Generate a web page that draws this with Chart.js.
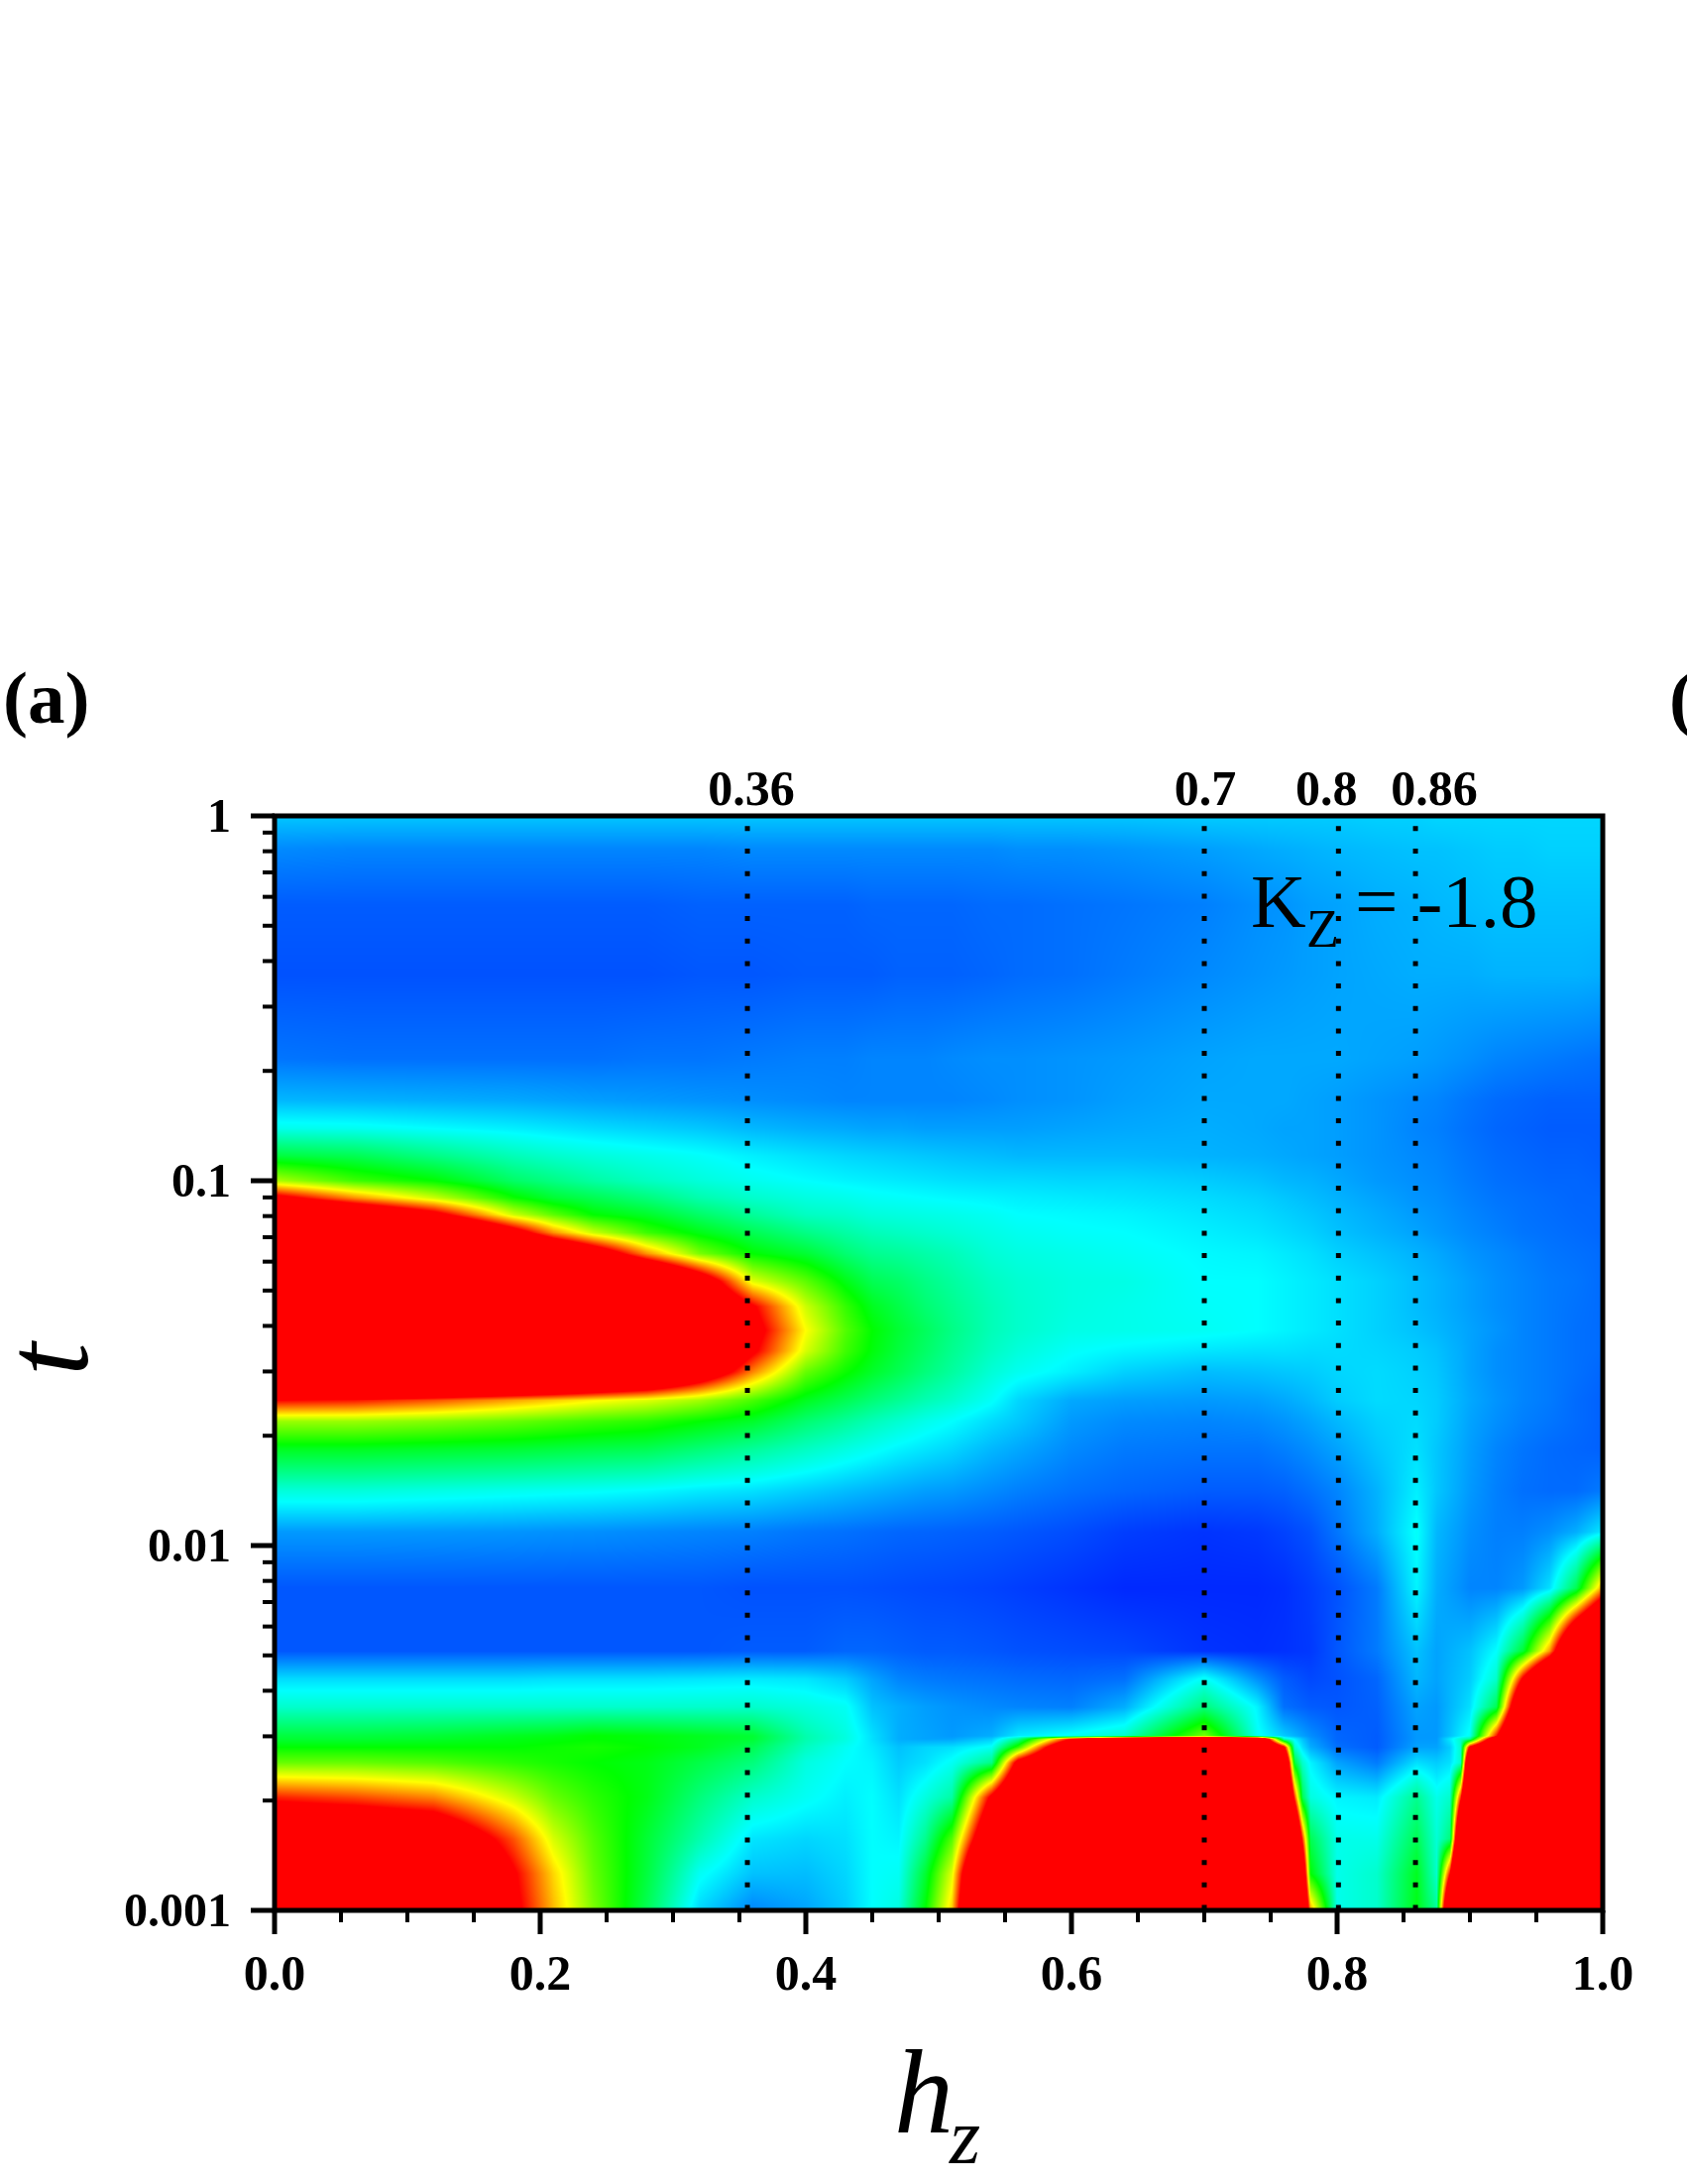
<!DOCTYPE html>
<html>
<head>
<meta charset="utf-8">
<title>Kz = -1.8 map</title>
<script src="https://cdn.jsdelivr.net/npm/chart.js@4"></script>
<style>
    html, body { margin: 0; padding: 0; background: #fff; }
    canvas { display: block; }
</style>
</head>
<body>
<canvas id="chart" width="1702" height="2203"></canvas>
<script>
// Values
const hzValues = [0, .06, .12, .18, .21, .24, .28, .32, .36, .40, .43, .45, .47, .49, .51, .54, .56, .60, .64, .70, .74, .76, .768, .774, .78, .80, .83, .86, .875, .885, .893, .90, .92, .94, .96, .98, 1];
const tValues = [1, .81, .57, .367, .216, .166, .139, .117, .1, .0897, .0807, .072, .0631, .053, .0452, .0389, .0341, .0299, .025, .0219, .0184, .0141, .0109, .00764, .00514, .00431, .00361, .003006, .002951, .0028, .00254, .00204, .00157, .00126, .001];

// One row per t, one column per hz. 0 = blue, .25 = cyan, .5 = green, .75 = yellow, 1 and up = red
const cellValues = [
    [.195, .195, .195, .195, .195, .195, .195, .195, .195, .195, .195, .195, .195, .195, .195, .195, .195, .195, .195, .2, .2, .2, .2, .2, .2, .2, .205, .205, .21, .21, .21, .21, .21, .21, .21, .21, .21],
    [.135, .13, .13, .13, .13, .13, .13, .13, .135, .135, .135, .135, .135, .135, .135, .135, .14, .14, .145, .155, .165, .17, .172, .173, .175, .18, .185, .19, .19, .192, .194, .195, .2, .2, .205, .205, .205],
    [.09, .09, .09, .09, .09, .09, .09, .095, .095, .095, .095, .1, .1, .1, .1, .105, .105, .11, .115, .125, .14, .145, .149, .152, .155, .16, .17, .175, .18, .182, .184, .185, .19, .19, .19, .19, .19],
    [.08, .08, .08, .08, .08, .08, .08, .085, .085, .09, .09, .09, .095, .095, .095, .1, .105, .11, .12, .135, .145, .15, .152, .154, .155, .16, .165, .17, .17, .17, .17, .17, .175, .175, .175, .175, .17],
    [.115, .11, .11, .11, .11, .11, .115, .115, .12, .125, .125, .13, .13, .13, .135, .14, .14, .145, .15, .16, .165, .165, .165, .165, .165, .165, .16, .155, .15, .146, .143, .14, .13, .125, .12, .115, .11],
    [.18, .175, .17, .165, .16, .155, .15, .145, .14, .135, .13, .13, .13, .13, .13, .135, .14, .145, .155, .165, .165, .165, .163, .161, .16, .155, .145, .135, .13, .124, .119, .115, .105, .1, .095, .095, .095],
    [.27, .265, .25, .235, .225, .215, .205, .195, .18, .17, .165, .16, .16, .155, .155, .155, .155, .16, .165, .17, .165, .16, .16, .16, .16, .155, .145, .13, .125, .119, .114, .11, .1, .095, .09, .09, .09],
    [.44, .42, .37, .32, .3, .285, .27, .255, .235, .22, .21, .205, .2, .195, .19, .185, .18, .18, .18, .175, .17, .165, .163, .161, .16, .155, .145, .135, .13, .124, .119, .115, .105, .1, .095, .095, .09],
    [.67, .56, .5, .4, .37, .34, .31, .285, .265, .25, .24, .235, .23, .225, .22, .215, .215, .21, .21, .2, .19, .18, .178, .176, .175, .165, .15, .14, .135, .129, .124, .12, .11, .105, .1, .1, .095],
    [1.07, .86, .7, .51, .45, .42, .38, .33, .3, .28, .27, .26, .255, .25, .245, .24, .235, .23, .225, .215, .205, .195, .191, .188, .185, .175, .16, .145, .14, .134, .129, .125, .115, .11, .105, .1, .1],
    [1.5, 1.29, 1.07, .7, .59, .5, .46, .4, .35, .31, .3, .285, .28, .275, .27, .26, .25, .245, .24, .225, .215, .205, .201, .198, .195, .183, .168, .152, .145, .139, .134, .13, .12, .112, .107, .102, .1],
    [2, 1.75, 1.54, 1.11, .86, .7, .56, .48, .42, .37, .34, .32, .31, .3, .29, .275, .265, .255, .25, .235, .225, .215, .211, .208, .205, .19, .175, .16, .15, .144, .139, .135, .125, .115, .11, .105, .1],
    [2, 1.9, 1.85, 1.65, 1.4, 1.18, .86, .62, .5, .45, .39, .36, .35, .335, .32, .29, .28, .27, .26, .245, .24, .23, .226, .223, .22, .205, .19, .175, .165, .157, .151, .145, .135, .125, .115, .11, .105],
    [2, 2, 2, 2, 1.9, 1.75, 1.55, 1.18, .72, .59, .48, .42, .4, .37, .345, .31, .295, .28, .275, .25, .25, .24, .236, .233, .23, .22, .205, .185, .175, .167, .161, .155, .14, .13, .12, .115, .105],
    [2.1, 2.1, 2, 1.9, 1.8, 1.7, 1.5, 1.35, 1.02, .7, .55, .47, .43, .39, .36, .32, .3, .28, .27, .255, .25, .24, .236, .233, .23, .22, .205, .185, .175, .167, .161, .155, .14, .13, .12, .112, .105],
    [2.2, 2.2, 2.15, 2.1, 2, 1.9, 1.7, 1.45, 1.08, .75, .58, .5, .45, .41, .37, .32, .3, .275, .27, .26, .25, .24, .236, .233, .23, .22, .205, .19, .18, .172, .166, .16, .145, .13, .12, .11, .105],
    [2.1, 2.1, 2.05, 2, 1.9, 1.8, 1.6, 1.4, 1.03, .71, .56, .49, .44, .4, .36, .31, .285, .255, .24, .225, .22, .22, .218, .217, .215, .215, .21, .2, .19, .178, .17, .16, .14, .13, .12, .11, .105],
    [1.9, 1.9, 1.85, 1.8, 1.75, 1.65, 1.5, 1.2, .87, .6, .51, .46, .42, .38, .345, .29, .265, .235, .205, .185, .19, .195, .197, .199, .2, .21, .215, .205, .195, .181, .171, .16, .14, .13, .12, .11, .1],
    [1, .98, .92, .84, .8, .76, .72, .66, .57, .47, .42, .385, .355, .325, .3, .255, .21, .165, .155, .15, .155, .165, .171, .175, .18, .2, .215, .21, .2, .186, .175, .165, .145, .13, .12, .105, .095],
    [.65, .65, .63, .6, .58, .56, .54, .5, .46, .39, .35, .32, .295, .27, .25, .215, .195, .15, .135, .13, .135, .145, .151, .155, .16, .18, .205, .215, .2, .184, .172, .16, .14, .125, .115, .105, .095],
    [.47, .47, .46, .45, .44, .43, .42, .385, .35, .31, .28, .26, .24, .225, .21, .18, .165, .135, .12, .115, .115, .125, .131, .135, .14, .16, .195, .22, .195, .179, .167, .155, .13, .115, .105, .1, .095],
    [.285, .285, .275, .265, .26, .255, .245, .23, .22, .2, .185, .175, .165, .155, .15, .135, .125, .11, .1, .09, .09, .095, .101, .105, .11, .13, .175, .235, .195, .177, .163, .15, .125, .11, .105, .105, .12],
    [.15, .15, .148, .145, .142, .14, .135, .13, .125, .115, .11, .105, .1, .098, .095, .09, .085, .075, .06, .05, .055, .065, .071, .075, .08, .115, .17, .255, .18, .164, .152, .14, .125, .125, .14, .17, .23],
    [.085, .085, .085, .085, .085, .085, .085, .085, .08, .08, .08, .078, .075, .072, .07, .065, .06, .05, .04, .04, .04, .045, .051, .055, .06, .08, .12, .24, .17, .154, .142, .13, .13, .15, .22, .42, .85],
    [.085, .085, .085, .085, .085, .085, .085, .085, .09, .09, .1, .1, .095, .09, .09, .085, .08, .075, .07, .05, .045, .048, .051, .053, .055, .085, .12, .19, .16, .172, .181, .19, .25, .45, .85, 1.6, 2],
    [.215, .215, .215, .215, .22, .22, .22, .225, .23, .225, .2, .16, .13, .12, .115, .11, .105, .1, .11, .26, .14, .09, .082, .076, .07, .08, .1, .18, .16, .176, .188, .2, .3, 1.03, 1.6, 2, 2.2],
    [.3, .3, .3, .3, .3, .3, .3, .3, .3, .28, .26, .19, .17, .155, .145, .135, .13, .125, .17, .38, .24, .11, .102, .096, .09, .085, .095, .16, .15, .178, .199, .22, .42, 1.5, 1.9, 2.2, 2.3],
    [.44, .44, .45, .47, .48, .5, .49, .47, .45, .33, .28, .22, .17, .16, .15, .17, .23, .26, .3, .62, .26, .2, .176, .158, .14, .1, .09, .15, .15, .19, .23, .26, .98, 1.8, 2, 2.3, 2.4],
    [.45, .45, .46, .48, .49, .5, .49, .47, .45, .33, .28, .22, .17, .16, .16, .2, .35, 1, 1.5, 1.7, 1.5, .3, .24, .19, .15, .1, .09, .15, .15, .23, .3, .35, 1.3, 1.9, 2.1, 2.3, 2.4],
    [.5, .5, .5, .5, .51, .52, .5, .47, .42, .31, .26, .23, .19, .21, .22, .26, .55, 1.4, 1.7, 1.8, 1.7, 1.05, .3, .22, .17, .11, .09, .16, .16, .2, .3, 1.05, 1.6, 2, 2.1, 2.3, 2.4],
    [.6, .6, .58, .54, .52, .5, .48, .43, .38, .28, .25, .24, .2, .22, .26, .37, 1.1, 1.6, 1.8, 1.9, 1.8, 1.5, .45, .3, .24, .16, .12, .22, .2, .22, .3, 1.6, 1.8, 2, 2.2, 2.3, 2.4],
    [.97, .93, .87, .7, .6, .54, .48, .38, .3, .26, .235, .25, .22, .28, .34, 1.05, 1.5, 1.9, 2, 2, 2, 1.8, .95, .42, .28, .24, .23, .36, .27, .3, .95, 1.8, 2, 2.2, 2.3, 2.4, 2.4],
    [1.3, 1.3, 1.25, .92, .71, .58, .45, .33, .225, .21, .22, .25, .24, .36, .58, 1.35, 1.8, 2, 2, 2, 2, 2, 1.6, .95, .42, .27, .27, .42, .29, .38, 1.6, 2, 2.2, 2.3, 2.4, 2.4, 2.4],
    [1.6, 1.55, 1.5, 1.02, .79, .6, .44, .26, .19, .185, .21, .25, .26, .45, .72, 1.8, 2, 2, 2, 2, 2, 2, 2, 1.3, .5, .27, .3, .47, .3, 1, 2, 2.2, 2.3, 2.4, 2.4, 2.4, 2.4],
    [1.8, 1.8, 1.7, 1.05, .82, .62, .42, .21, .13, .16, .2, .25, .28, .5, .8, 2, 2, 2, 2, 2, 2, 2, 2, 1.5, .85, .27, .3, .48, .35, 1.6, 2.2, 2.4, 2.4, 2.4, 2.4, 2.4, 2.4]
];

// Axis ticks
const xMajorTicks = [0, .2, .4, .6, .8, 1];
const xMinorTicks = [.05, .1, .15, .25, .3, .35, .45, .5, .55, .65, .7, .75, .85, .9, .95];
const yMajorTicks = [1, .1, .01, .001];
const yMinorTicks = [.9, .8, .7, .6, .5, .4, .3, .2, .09, .08, .07, .06, .05, .04, .03, .02, .009, .008, .007, .006, .005, .004, .003, .002];

// Dotted guide lines and what is printed above them
const markerHz = [.356, .7, .801, .859];
const markerLabels = ['0.36', '0.7', '0.8', '0.86'];
const markerLabelShift = [4, 1, -12, 19];

const SERIF = '"Liberation Serif", "Times New Roman", serif';
const colorStops = [[0, 0, 255], [0, 255, 255], [0, 255, 0], [255, 255, 0], [255, 0, 0]];

// Rainbow colormap, saturates at red
function colorFor(v) {
    const pos = Math.min(Math.max(v, 0), 1) * 4;
    const i = Math.min(Math.floor(pos), 3);
    const f = pos - i;
    const a = colorStops[i], b = colorStops[i + 1];
    return [a[0] + (b[0] - a[0]) * f, a[1] + (b[1] - a[1]) * f, a[2] + (b[2] - a[2]) * f];
}

// Paints the map under the datasets, smooth shading between the grid nodes
const heatmapPlugin = {
    id: 'heatmap',
    beforeDatasetsDraw(chart) {
        const { ctx, chartArea, scales } = chart;
        const left = Math.round(chartArea.left), top = Math.round(chartArea.top);
        const w = Math.round(chartArea.right) - left, h = Math.round(chartArea.bottom) - top;
        const nodeX = hzValues.map(v => scales.x.getPixelForValue(v));
        const nodeY = tValues.map(v => scales.y.getPixelForValue(v));

        const off = document.createElement('canvas');
        off.width = w;
        off.height = h;
        const offCtx = off.getContext('2d');
        const img = offCtx.createImageData(w, h);

        let row = 0;
        for (let py = 0; py < h; py++) {
            const sy = top + py + .5;
            while (row < nodeY.length - 2 && sy > nodeY[row + 1]) row++;
            const fy = Math.min(Math.max((sy - nodeY[row]) / (nodeY[row + 1] - nodeY[row]), 0), 1);
            let col = 0;
            for (let px = 0; px < w; px++) {
                const sx = left + px + .5;
                while (col < nodeX.length - 2 && sx > nodeX[col + 1]) col++;
                const fx = Math.min(Math.max((sx - nodeX[col]) / (nodeX[col + 1] - nodeX[col]), 0), 1);
                const upper = cellValues[row][col] * (1 - fx) + cellValues[row][col + 1] * fx;
                const lower = cellValues[row + 1][col] * (1 - fx) + cellValues[row + 1][col + 1] * fx;
                const c = colorFor(upper * (1 - fy) + lower * fy);
                const k = (py * w + px) * 4;
                img.data[k] = c[0];
                img.data[k + 1] = c[1];
                img.data[k + 2] = c[2];
                img.data[k + 3] = 255;
            }
        }
        offCtx.putImageData(img, 0, 0);
        ctx.drawImage(off, left, top);
    }
};

// Frame, two tick lengths, and the free text around the plot
const framePlugin = {
    id: 'frame',
    afterDraw(chart) {
        const { ctx, chartArea: a, scales } = chart;
        ctx.save();
        ctx.strokeStyle = '#000';
        ctx.lineWidth = 5;
        ctx.strokeRect(a.left, a.top, a.right - a.left, a.bottom - a.top);

        const xTick = (v, len, lw) => {
            const p = scales.x.getPixelForValue(v);
            ctx.lineWidth = lw;
            ctx.beginPath();
            ctx.moveTo(p, a.bottom);
            ctx.lineTo(p, a.bottom + len);
            ctx.stroke();
        };
        const yTick = (v, len, lw) => {
            const p = scales.y.getPixelForValue(v);
            ctx.lineWidth = lw;
            ctx.beginPath();
            ctx.moveTo(a.left, p);
            ctx.lineTo(a.left - len, p);
            ctx.stroke();
        };
        xMajorTicks.forEach(v => xTick(v, 24, 5));
        xMinorTicks.forEach(v => xTick(v, 12, 4));
        yMajorTicks.forEach(v => yTick(v, 24, 5));
        yMinorTicks.forEach(v => yTick(v, 12, 4));

        ctx.fillStyle = '#000';
        ctx.textBaseline = 'alphabetic';

        // y tick labels, digits centred on their ticks
        ctx.textAlign = 'right';
        ctx.font = 'bold 48px ' + SERIF;
        yMajorTicks.forEach(v => {
            ctx.fillText(String(v), 233, scales.y.getPixelForValue(v) + 16);
        });

        // Labels above the dotted lines
        ctx.textAlign = 'center';
        ctx.font = 'bold 50px ' + SERIF;
        markerHz.forEach((v, i) => {
            ctx.fillText(markerLabels[i], scales.x.getPixelForValue(v) + markerLabelShift[i], 812);
        });

        // Panel letters
        ctx.textAlign = 'left';
        ctx.font = 'bold 75px ' + SERIF;
        ctx.fillText('(a)', 3, 729);
        ctx.fillText('(', 1684, 729);

        // K_Z = -1.8
        ctx.font = '77px ' + SERIF;
        ctx.fillText('K', 1262, 935);
        ctx.font = '54px ' + SERIF;
        ctx.fillText('Z', 1318, 955);
        ctx.font = '77px ' + SERIF;
        ctx.fillText('= -1.8', 1367, 935);

        // h_z
        ctx.font = 'italic 120px ' + SERIF;
        ctx.fillText('h', 902, 2151);
        ctx.font = 'italic 80px ' + SERIF;
        ctx.fillText('z', 958, 2182);

        // t, rotated
        ctx.save();
        ctx.translate(88, 1371);
        ctx.rotate(-Math.PI / 2);
        ctx.textAlign = 'center';
        ctx.font = 'italic 120px ' + SERIF;
        ctx.fillText('t', 0, 0);
        ctx.restore();
        ctx.restore();
    }
};

new Chart(document.getElementById('chart').getContext('2d'), {
    type: 'scatter',
    data: {
        datasets: markerHz.map(v => ({
            data: [{ x: v, y: 1 }, { x: v, y: .001 }],
            showLine: true,
            pointRadius: 0,
            borderColor: '#000',
            borderWidth: 5,
            borderDash: [5, 17.67],
            borderDashOffset: 12.3
        }))
    },
    plugins: [heatmapPlugin, framePlugin],
    options: {
        responsive: false,
        animation: false,
        devicePixelRatio: 1,
        layout: { padding: { top: 823, right: 85, bottom: 0, left: 0 } },
        plugins: { legend: { display: false }, tooltip: { enabled: false } },
        scales: {
            x: {
                type: 'linear',
                min: 0,
                max: 1,
                grid: { display: false, drawTicks: false },
                border: { display: false },
                afterFit(scale) { scale.height = 276; },
                afterBuildTicks(scale) { scale.ticks = xMajorTicks.map(v => ({ value: v })); },
                ticks: {
                    color: '#000',
                    font: { family: SERIF, size: 50, weight: 'bold' },
                    padding: 37,
                    maxRotation: 0,
                    autoSkip: false,
                    callback: v => v.toFixed(1)
                }
            },
            y: {
                type: 'logarithmic',
                min: .001,
                max: 1,
                grid: { display: false, drawTicks: false },
                border: { display: false },
                afterFit(scale) { scale.width = 277; },
                ticks: { display: false }
            }
        }
    }
});
</script>
</body>
</html>
